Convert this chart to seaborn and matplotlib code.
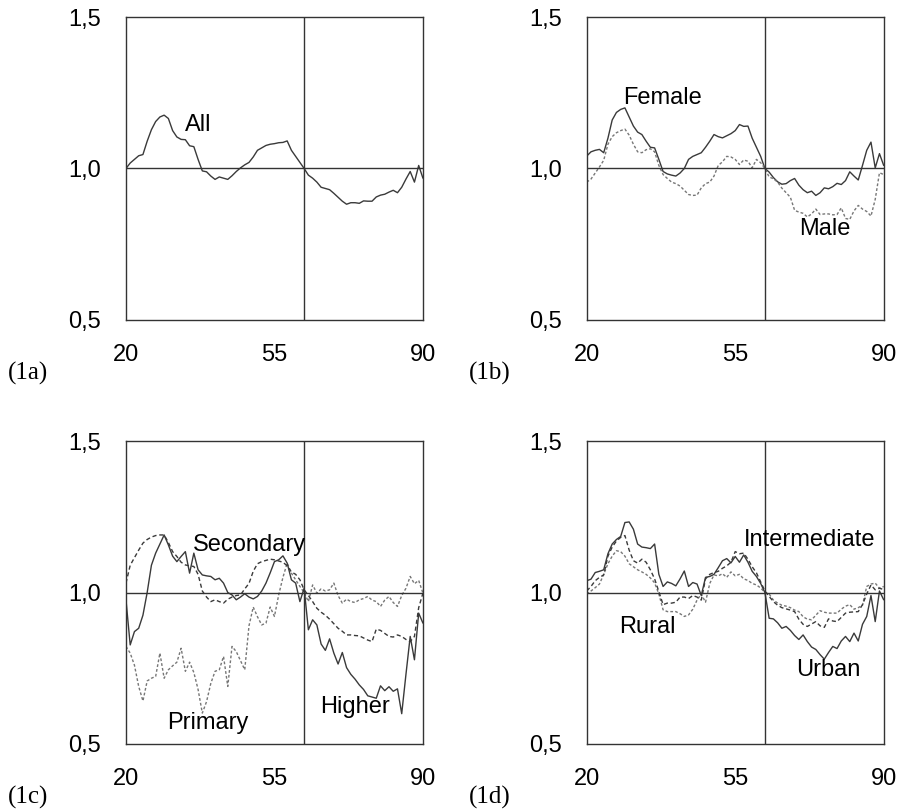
import matplotlib
matplotlib.use("Agg")
import matplotlib.pyplot as plt
import seaborn as sns
import pandas as pd

ages = list(range(20, 91))

all_ratio = [1.000, 1.018, 1.030, 1.042, 1.046, 1.090, 1.128, 1.155, 1.170, 1.176,
             1.165, 1.125, 1.104, 1.096, 1.095, 1.075, 1.072, 1.030, 0.992, 0.989,
             0.975, 0.964, 0.972, 0.968, 0.964, 0.976, 0.990, 1.002, 1.012, 1.020,
             1.038, 1.060, 1.068, 1.076, 1.080, 1.082, 1.085, 1.086, 1.091, 1.060,
             1.040, 1.020, 1.000, 0.978, 0.968, 0.955, 0.938, 0.934, 0.930, 0.918,
             0.905, 0.892, 0.882, 0.887, 0.887, 0.885, 0.893, 0.892, 0.892, 0.906,
             0.912, 0.915, 0.922, 0.928, 0.920, 0.938, 0.965, 0.990, 0.955, 1.010,
             0.968]

female = [1.041, 1.055, 1.060, 1.063, 1.052, 1.100, 1.160, 1.185, 1.195, 1.200,
          1.170, 1.140, 1.120, 1.112, 1.090, 1.070, 1.068, 1.030, 0.990, 0.982,
          0.978, 0.975, 0.985, 1.000, 1.030, 1.040, 1.046, 1.052, 1.070, 1.090,
          1.112, 1.105, 1.101, 1.108, 1.115, 1.125, 1.145, 1.139, 1.140, 1.100,
          1.070, 1.040, 1.000, 0.988, 0.970, 0.956, 0.948, 0.950, 0.960, 0.967,
          0.945, 0.930, 0.920, 0.925, 0.911, 0.920, 0.936, 0.933, 0.940, 0.951,
          0.947, 0.960, 0.989, 0.975, 0.962, 1.010, 1.060, 1.087, 1.002, 1.049,
          1.010]

male = [0.955, 0.965, 0.985, 1.005, 1.027, 1.080, 1.105, 1.118, 1.125, 1.130,
        1.110, 1.080, 1.055, 1.052, 1.062, 1.065, 1.055, 1.010, 0.980, 0.967,
        0.955, 0.950, 0.942, 0.928, 0.914, 0.911, 0.912, 0.936, 0.950, 0.955,
        0.975, 1.010, 1.022, 1.040, 1.038, 1.030, 1.013, 1.028, 1.024, 1.002,
        1.030, 1.019, 1.000, 0.972, 0.966, 0.955, 0.935, 0.920, 0.905, 0.862,
        0.856, 0.852, 0.840, 0.850, 0.866, 0.848, 0.850, 0.850, 0.847, 0.848,
        0.870, 0.835, 0.832, 0.860, 0.878, 0.866, 0.858, 0.843, 0.898, 0.986,
        0.980]

primary = [0.822, 0.800, 0.760, 0.690, 0.642, 0.708, 0.717, 0.723, 0.800, 0.717,
           0.745, 0.758, 0.770, 0.816, 0.740, 0.770, 0.736, 0.680, 0.602, 0.640,
           0.700, 0.740, 0.745, 0.789, 0.690, 0.822, 0.805, 0.775, 0.745, 0.890,
           0.952, 0.920, 0.893, 0.899, 0.952, 0.921, 0.992, 1.050, 1.097, 1.064,
           1.042, 1.020, 1.000, 0.970, 1.025, 0.998, 1.012, 1.005, 1.009, 1.031,
           0.990, 0.965, 0.978, 0.970, 0.967, 0.976, 0.980, 0.987, 0.975, 0.970,
           0.954, 0.975, 0.987, 0.967, 0.954, 0.990, 1.014, 1.053, 1.029, 1.040,
           0.998]

secondary = [1.031, 1.090, 1.115, 1.140, 1.163, 1.175, 1.183, 1.188, 1.190, 1.190,
             1.165, 1.135, 1.119, 1.100, 1.091, 1.088, 1.086, 1.060, 1.005, 0.985,
             0.970, 0.976, 0.970, 0.965, 0.978, 0.985, 0.990, 0.992, 1.012, 1.030,
             1.070, 1.095, 1.102, 1.106, 1.110, 1.108, 1.104, 1.100, 1.088, 1.068,
             1.060, 1.042, 1.009, 0.990, 0.970, 0.948, 0.935, 0.925, 0.912, 0.897,
             0.882, 0.872, 0.860, 0.860, 0.858, 0.857, 0.850, 0.843, 0.838, 0.879,
             0.875, 0.865, 0.855, 0.853, 0.860, 0.855, 0.845, 0.838, 0.855, 0.950,
             0.998]

higher = [0.976, 0.827, 0.871, 0.882, 0.925, 1.000, 1.090, 1.130, 1.160, 1.190,
          1.157, 1.120, 1.102, 1.119, 1.135, 1.064, 1.130, 1.075, 1.058, 1.055,
          1.053, 1.042, 1.047, 1.031, 1.000, 0.992, 0.976, 0.985, 0.996, 0.985,
          0.979, 0.987, 1.005, 1.031, 1.065, 1.102, 1.108, 1.121, 1.097, 1.042,
          1.031, 0.970, 1.014, 0.877, 0.910, 0.893, 0.830, 0.809, 0.847, 0.800,
          0.764, 0.802, 0.752, 0.730, 0.714, 0.695, 0.680, 0.659, 0.655, 0.651,
          0.692, 0.676, 0.689, 0.674, 0.682, 0.600, 0.730, 0.855, 0.778, 0.932,
          0.899]

urban = [1.039, 1.044, 1.066, 1.070, 1.075, 1.128, 1.160, 1.175, 1.185, 1.231,
         1.233, 1.209, 1.160, 1.150, 1.148, 1.145, 1.160, 1.060, 1.020, 1.035,
         1.030, 1.022, 1.045, 1.071, 1.020, 1.033, 1.028, 0.990, 1.050, 1.053,
         1.060, 1.082, 1.105, 1.112, 1.098, 1.119, 1.100, 1.124, 1.100, 1.070,
         1.053, 1.030, 1.000, 0.915, 0.913, 0.900, 0.882, 0.888, 0.875, 0.858,
         0.845, 0.860, 0.838, 0.820, 0.812, 0.795, 0.780, 0.802, 0.822, 0.815,
         0.840, 0.855, 0.838, 0.866, 0.840, 0.895, 0.921, 0.990, 0.904, 1.005,
         0.976]

intermediate = [1.005, 1.020, 1.039, 1.050, 1.058, 1.120, 1.150, 1.170, 1.182, 1.188,
                1.140, 1.105, 1.097, 1.110, 1.100, 1.075, 1.045, 1.003, 0.960, 0.965,
                0.965, 0.968, 0.985, 0.985, 0.980, 0.990, 0.985, 0.975, 1.045, 1.060,
                1.066, 1.070, 1.080, 1.088, 1.100, 1.135, 1.128, 1.130, 1.110, 1.085,
                1.065, 1.035, 1.005, 0.987, 0.970, 0.958, 0.950, 0.946, 0.942, 0.937,
                0.912, 0.895, 0.888, 0.896, 0.904, 0.890, 0.885, 0.913, 0.906, 0.904,
                0.918, 0.932, 0.935, 0.936, 0.937, 0.960, 0.995, 1.025, 1.009, 1.014,
                1.010]

rural = [0.995, 1.005, 1.016, 1.028, 1.060, 1.095, 1.120, 1.138, 1.135, 1.120,
         1.095, 1.085, 1.075, 1.068, 1.060, 1.048, 1.032, 0.995, 0.943, 0.937,
         0.937, 0.937, 0.930, 0.921, 0.926, 0.945, 0.975, 0.995, 0.968, 1.030,
         1.058, 1.055, 1.062, 1.050, 1.068, 1.055, 1.060, 1.045, 1.040, 1.030,
         1.025, 1.015, 1.000, 0.995, 0.975, 0.965, 0.958, 0.955, 0.950, 0.942,
         0.937, 0.920, 0.912, 0.910, 0.925, 0.940, 0.935, 0.932, 0.932, 0.932,
         0.945, 0.955, 0.960, 0.945, 0.950, 0.958, 1.020, 1.028, 1.031, 1.014,
         1.020]

# line styles
SOLID = dict(color="#3a3a3a", lw=1.0, ls="-")
DASH = dict(color="#3a3a3a", lw=1.0, ls=(0, (3, 2)))
DOT = dict(color="#777777", lw=1.0, ls=(0, (2, 1.5)))

panels = [
    ("(1a)", [(all_ratio, SOLID)], [("All", 37.0, 1.145)]),
    ("(1b)", [(female, SOLID), (male, DOT)],
     [("Female", 37.8, 1.234), ("Male", 76.2, 0.80)]),
    ("(1c)", [(primary, DOT), (secondary, DASH), (higher, SOLID)],
     [("Secondary", 49.2, 1.157), ("Primary", 39.3, 0.57), ("Higher", 74.0, 0.623)]),
    ("(1d)", [(rural, DOT), (intermediate, DASH), (urban, SOLID)],
     [("Intermediate", 72.5, 1.174), ("Rural", 34.3, 0.886), ("Urban", 77.0, 0.745)]),
]

sns.set_style("white")
plt.rcParams["font.family"] = ["Liberation Sans", "DejaVu Sans"]

fig = plt.figure(figsize=(9.01, 8.10), dpi=100)
positions = [(0.1398, 0.605), (0.6512, 0.605), (0.1398, 0.0815), (0.6512, 0.0815)]
W, H = 0.3296, 0.374

for (tag, series, labels), (x0, y0) in zip(panels, positions):
    ax = fig.add_axes([x0, y0, W, H])
    for vals, st in series:
        df = pd.DataFrame({"age": ages, "ratio": vals})
        sns.lineplot(data=df, x="age", y="ratio", ax=ax, color=st["color"],
                     linewidth=st["lw"], linestyle=st["ls"])
    ax.axhline(1.0, color="#333333", lw=1.0)
    ax.axvline(62, color="#333333", lw=1.0)
    ax.set_xlim(20, 90)
    ax.set_ylim(0.5, 1.5)
    ax.set_xticks([20, 55, 90])
    ax.set_xticklabels(["20", "55", "90"])
    ax.set_yticks([0.5, 1.0, 1.5])
    ax.set_yticklabels(["0,5", "1,0", "1,5"])
    ax.tick_params(axis="x", direction="in", length=6, width=0.9, color="#333333",
                   labelsize=17, pad=17, top=False, labelcolor="black")
    ax.tick_params(axis="y", length=0, labelsize=17, pad=18, labelcolor="black")
    ax.set_xlabel("")
    ax.set_ylabel("")
    for s in ax.spines.values():
        s.set_visible(True)
        s.set_color("#333333")
        s.set_linewidth(1.0)
    for txt, lx, ly in labels:
        ax.text(lx, ly, txt, ha="center", va="center", fontsize=17, color="black")
    fig.text(x0 - 0.131, y0 - 0.066, tag, fontsize=18, family="Liberation Serif",
             ha="left", va="center", color="black")

fig.savefig("out.png", dpi=100)
